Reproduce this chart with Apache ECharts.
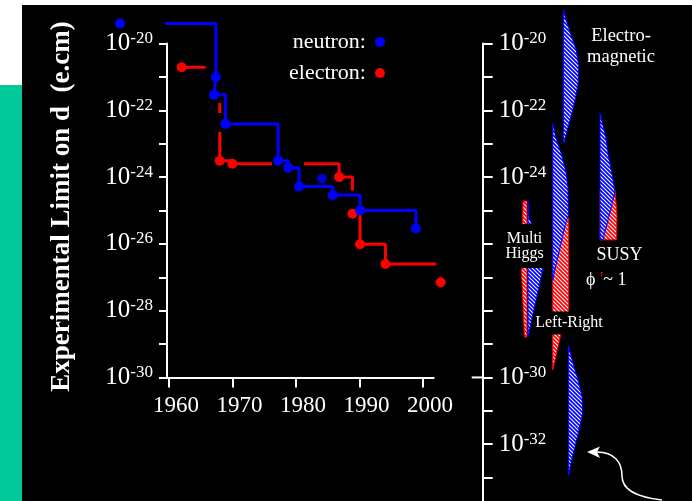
<!DOCTYPE html>
<html><head><meta charset="utf-8">
<script src="https://cdn.jsdelivr.net/npm/echarts@6/dist/echarts.min.js"></script>
<style>html,body{margin:0;padding:0;background:#fff}#c{width:692px;height:501px}</style>
</head><body><div id="c"></div>
<script>
// ---------------- data ----------------
const neutronYears  = [1952.3, 1967.4, 1967.1, 1968.9, 1977.2, 1978.8, 1980.5, 1985.8, 1990.1, 1998.9];
const neutronLimits = [4.0e-20, 9.8e-22, 2.9e-22, 3.9e-23, 3.1e-24, 1.9e-24, 5.2e-25, 2.9e-25, 1.0e-25, 2.9e-26];
const neutronExtraYears  = [1984.1];
const neutronExtraLimits = [8.9e-25];
const electronYears  = [1962.0, 1968.0, 1970.0, 1986.8, 1988.9, 1990.1, 1994.1, 2002.8];
const electronLimits = [1.95e-21, 3.1e-24, 2.5e-24, 1.0e-24, 8.0e-26, 9.8e-27, 2.5e-27, 7.1e-28];
const xTickYears = [1960, 1970, 1980, 1990, 2000];
const rightTickExponents  = [-33, -32, -31, -30, -29, -28, -27, -26, -25, -24, -23, -22, -21, -20];
const rightLabelExponents = [-32, -30, -24, -22, -20];

// theoretical predictions: [log10(d / e.cm), relative band width]
const emBlue         = [[-19.0,0],[-19.3,0.19],[-19.69,0.44],[-20.19,0.81],[-20.7,0.97],[-21.18,0.93],[-21.69,0.74],[-22.2,0.48],[-22.59,0.25],[-22.98,0.05]];
const smBlue         = [[-29.03,0],[-29.57,0.29],[-30.07,0.61],[-30.58,0.86],[-31.06,0.9],[-31.57,0.67],[-32.08,0.42],[-32.56,0.17],[-32.92,0.03]];
const leftRightBlue  = [[-22.39,0],[-22.83,0.21],[-23.34,0.56],[-23.85,0.83],[-24.33,0.96],[-24.84,0.97],[-25.1,1.0],[-25.43,0.79],[-26.03,0.5],[-26.63,0.21],[-27.08,0]];
const leftRightRed   = [[-25.22,1.0],[-28.0,1.0],[-28.73,0.5],[-29.78,0]];
const susyBlue       = [[-22.07,0],[-22.83,0.375],[-23.34,0.52],[-23.85,0.73],[-24.45,0.94],[-24.99,0.66],[-25.88,0.19]];
const susyRed        = [[-24.39,0.94],[-25.13,1.06],[-25.88,1.03]];
const multiHiggsBlue = [[-24.72,0.02],[-25.22,0.06],[-25.49,0.31],[-26.33,1.0],[-26.87,0.875],[-27.83,0.44],[-28.79,0]];
const multiHiggsRed  = [[-24.72,0.25],[-25.52,0.28],[-26.87,0.34],[-27.83,0.25],[-28.79,0.16]];

// ---------------- rendering config ----------------
const FONT = '"Liberation Serif", "Times New Roman", serif';
const BLUE = '#0000ff', RED = '#ff0000', WHITE = '#ffffff';
const columnBase = { multiHiggsBlue: 45.3, multiHiggsRed: 44.3, leftRight: 70.0, em: 80.6, sm: 85.6, susy: 117.3 };
const BAND_WIDTH = 16;
const theoryShapes = [
  { col: 'em', dir: 1, color: 'blue', profile: emBlue },
  { col: 'sm', dir: 1, color: 'blue', profile: smBlue },
  { col: 'leftRight', dir: 1, color: 'red', profile: leftRightRed },
  { col: 'leftRight', dir: 1, color: 'blue', profile: leftRightBlue },
  { col: 'susy', dir: 1, color: 'red', profile: susyRed },
  { col: 'susy', dir: 1, color: 'blue', profile: susyBlue },
  { col: 'multiHiggsRed', dir: -1, color: 'red', profile: multiHiggsRed },
  { col: 'multiHiggsBlue', dir: 1, color: 'blue', profile: multiHiggsBlue }
];

function makePattern(color) {
  const c = document.createElement('canvas'); c.width = 4; c.height = 4;
  const g = c.getContext('2d');
  g.fillStyle = color; g.fillRect(0, 0, 4, 4);
  g.strokeStyle = '#ffffff'; g.lineWidth = 1.1;
  g.beginPath();
  g.moveTo(-1, -1); g.lineTo(5, 5);
  g.moveTo(-1, 3); g.lineTo(1, 5);
  g.moveTo(3, -1); g.lineTo(5, 1);
  g.stroke();
  return { image: c, repeat: 'repeat' };
}
const patterns = { blue: makePattern(BLUE), red: makePattern(RED) };
const strokes = { blue: BLUE, red: RED };

function renderShape(params, api) {
  const s = theoryShapes[params.dataIndex];
  const base = columnBase[s.col];
  const pts = [];
  s.profile.forEach(p => pts.push(api.coord([base + s.dir * p[1] * BAND_WIDTH, p[0]])));
  for (let i = s.profile.length - 1; i >= 0; i--) pts.push(api.coord([base, s.profile[i][0]]));
  return { type: 'polygon', shape: { points: pts },
           style: { fill: patterns[s.color], stroke: strokes[s.color], lineWidth: 1 } };
}

function expLabel(v) {
  const e = Math.round(v);
  return (e % 2 === 0) ? '{b|10}{s|' + e + '}' : '';
}
const expRich = {
  b: { fontSize: 25, lineHeight: 27, fontFamily: FONT, color: WHITE },
  s: { fontSize: 17, lineHeight: 14, fontFamily: FONT, color: WHITE, verticalAlign: 'top' }
};
const axisLineStyle = { color: WHITE, width: 2 };

const chart = echarts.init(document.getElementById('c'), null, { renderer: 'canvas' });
const option = {
  backgroundColor: '#ffffff',
  animation: false,
  grid: [
    { left: 167, top: 43.5, width: 266.7, height: 334 },
    { left: 482.7, top: 43.5, width: 209.3, height: 457.5 }
  ],
  legend: {
    data: ['neutron', 'electron'], orient: 'vertical', left: 284, top: 26,
    align: 'right', icon: 'circle', itemWidth: 18, itemHeight: 10, itemGap: 9,
    selectedMode: false, formatter: '{name}:',
    textStyle: { color: WHITE, fontFamily: FONT, fontSize: 22, lineHeight: 22 }
  },
  xAxis: [
    { gridIndex: 0, type: 'value', min: 1959.7, max: 2001.7,
      axisLine: { lineStyle: axisLineStyle },
      axisTick: { customValues: xTickYears, length: 10, lineStyle: axisLineStyle },
      axisLabel: { customValues: xTickYears, formatter: v => String(Math.round(v)), color: WHITE, fontFamily: FONT, fontSize: 23, margin: 17, padding: [0, 0, 0, 14] },
      splitLine: { show: false } },
    { gridIndex: 1, type: 'value', min: 0, max: 209.3, show: false }
  ],
  yAxis: [
    { gridIndex: 0, type: 'value', min: -30, max: -20, interval: 1,
      axisLine: { show: true, lineStyle: axisLineStyle },
      axisTick: { length: 8, lineStyle: axisLineStyle },
      axisLabel: { formatter: expLabel, rich: expRich, margin: 14 },
      splitLine: { show: false } },
    { gridIndex: 1, type: 'value', min: -33.7, max: -20,
      axisLine: { show: true, lineStyle: axisLineStyle },
      axisTick: { inside: true, length: 10, customValues: rightTickExponents, lineStyle: axisLineStyle },
      axisLabel: { inside: true, customValues: rightLabelExponents, formatter: expLabel, rich: expRich, margin: 16 },
      splitLine: { show: false } }
  ],
  series: [
    { name: 'electron', type: 'line', xAxisIndex: 0, yAxisIndex: 0, step: 'end', clip: false, z: 2,
      data: electronYears.map((y, i) => [y, Math.log10(electronLimits[i])]),
      lineStyle: { color: RED, width: 3, type: [24, 50, 10, 19, 84, 32, 75, 32, 400, 1] },
      itemStyle: { color: RED }, symbol: 'circle', symbolSize: 10, showAllSymbol: true },
    { name: 'neutron', type: 'line', xAxisIndex: 0, yAxisIndex: 0, step: 'end', clip: false, z: 3,
      data: neutronYears.map((y, i) => [y, Math.log10(neutronLimits[i])]),
      lineStyle: { color: BLUE, width: 3 },
      itemStyle: { color: BLUE }, symbol: 'circle', symbolSize: 10, showAllSymbol: true },
    { name: 'neutron', type: 'scatter', xAxisIndex: 0, yAxisIndex: 0, clip: false, z: 3,
      data: neutronExtraYears.map((y, i) => [y, Math.log10(neutronExtraLimits[i])]),
      itemStyle: { color: BLUE }, symbol: 'circle', symbolSize: 10 },
    { type: 'custom', xAxisIndex: 1, yAxisIndex: 1, clip: false, z: 2,
      renderItem: renderShape, data: theoryShapes.map((s, i) => [i, 0]) }
  ]
};
chart.setOption(option);

const p30 = chart.convertToPixel({ gridIndex: 1 }, [0, -30]);
const txt = (o) => Object.assign({ fill: WHITE, fontFamily: FONT }, o);
chart.setOption({
  graphic: [
    { type: 'rect', z: -10, shape: { x: 22, y: 5, width: 670, height: 496 }, style: { fill: '#000000' } },
    { type: 'rect', z: -10, shape: { x: 0, y: 85, width: 22, height: 416 }, style: { fill: '#00c896' } },
    { type: 'text', z: 100, x: 62, y: 206.5, rotation: Math.PI / 2,
      style: txt({ text: 'Experimental Limit on d  (e.cm)', fontSize: 27, fontWeight: 'bold', align: 'center', verticalAlign: 'middle' }) },
    { type: 'line', z: 100, shape: { x1: p30[0] - 11, y1: p30[1], x2: p30[0], y2: p30[1] }, style: { stroke: WHITE, lineWidth: 2 } },
    { type: 'text', z: 100, x: 621, y: 46.5,
      style: txt({ text: 'Electro-\nmagnetic', fontSize: 18.5, lineHeight: 21, align: 'center', verticalAlign: 'middle' }) },
    { type: 'text', z: 100, x: 524.5, y: 246,
      style: txt({ text: 'Multi\nHiggs', fontSize: 16, lineHeight: 15, align: 'center', verticalAlign: 'middle',
                   backgroundColor: '#000000', padding: [3, 3, 11, 3] }) },
    { type: 'text', z: 100, x: 619.5, y: 255.6,
      style: txt({ text: 'SUSY', fontSize: 18, align: 'center', verticalAlign: 'middle' }) },
    { type: 'text', z: 100, x: 586, y: 280.6,
      style: txt({ text: '{w|ϕ }{r|\'}{w|~ 1}', verticalAlign: 'middle',
                   rich: { w: { fontSize: 18, fontFamily: FONT, fill: WHITE, color: WHITE },
                           r: { fontSize: 18, fontFamily: FONT, fill: RED, color: RED, verticalAlign: 'top', lineHeight: 10 } } }) },
    { type: 'text', z: 100, x: 569, y: 323,
      style: txt({ text: 'Left-Right', fontSize: 16, lineHeight: 16, align: 'center', verticalAlign: 'middle',
                   backgroundColor: '#000000', padding: [3, 2, 4, 2] }) },
    { type: 'bezierCurve', z: 100, shape: { x1: 597, y1: 452, cpx1: 614, cpy1: 452, cpx2: 622, cpy2: 462, x2: 622, y2: 476 },
      style: { fill: null, stroke: WHITE, lineWidth: 1.5 } },
    { type: 'bezierCurve', z: 100, shape: { x1: 622, y1: 476, cpx1: 622, cpy1: 490, cpx2: 636, cpy2: 497, x2: 662, y2: 500 },
      style: { fill: null, stroke: WHITE, lineWidth: 1.5 } },
    { type: 'polygon', z: 100, shape: { points: [[587, 452], [600, 446.5], [597, 452], [600, 458]] }, style: { fill: WHITE } }
  ]
});
</script>
</body></html>
